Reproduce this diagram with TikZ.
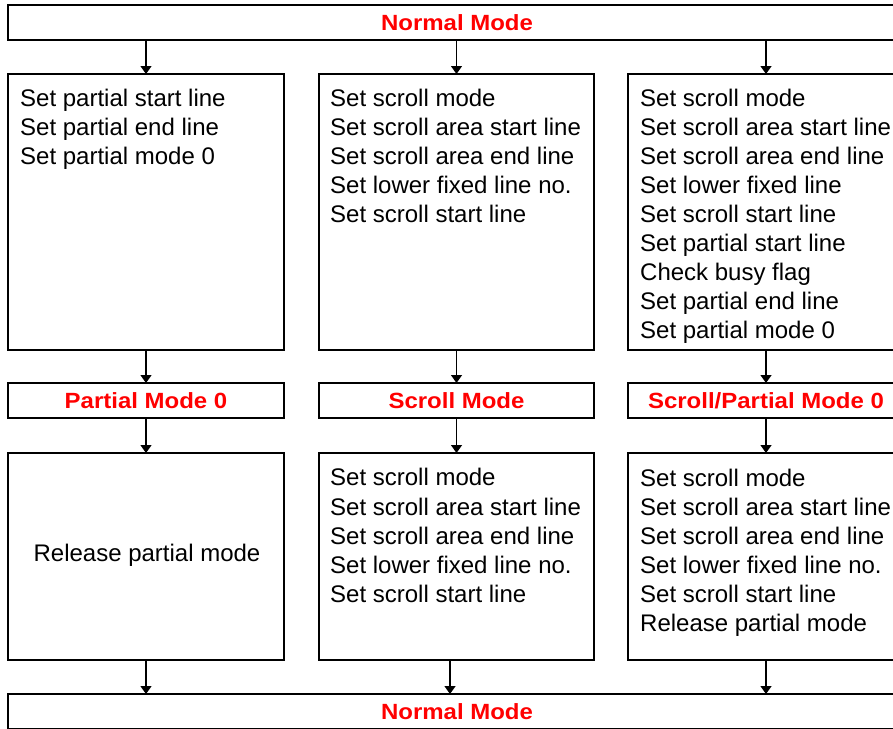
\documentclass[tikz,border=0pt]{standalone}
\usepackage{fontspec}
\setmainfont{Liberation Sans}
\newfontfamily\labfont{Liberation Sans}[FakeStretch=1.09]
\usetikzlibrary{arrows.meta,calc}
\definecolor{lblred}{RGB}{255,0,0}
\begin{document}
\begin{tikzpicture}[x=1pt,y=-1pt,
  box/.style={draw=black,line width=1.3pt,rectangle,inner sep=0,outer sep=0,minimum width=276,minimum height=276},
  modebox/.style={draw=black,line width=1.3pt,rectangle,inner sep=0,outer sep=0,minimum width=276,minimum height=35,
     font=\labfont\bfseries\fontsize{22}{26}\selectfont,text=lblred},
  lowbox/.style={box,minimum height=207},
  widebox/.style={modebox,minimum width=898},
  txt/.style={anchor=north west,inner sep=0,align=left,font=\fontsize{24}{29}\selectfont},
  arr/.style={line width=1.3pt,-{Triangle[width=11pt,length=8pt]}}]
\useasboundingbox (0,0) rectangle (893,728);
\clip (0,0) rectangle (893,728);
% top
\node[widebox] (top) at (457,22.5) {Normal Mode};
% row 1
\node[box] (a1) at (146,212) {};
\node[box,minimum width=275] (a2) at (456.5,212) {};
\node[box] (a3) at (766,212) {};
\node[txt] (t1) at ($(a1.north west)+(12,15.4)$) {Set partial start line\\Set partial end line\\Set partial mode 0};
\node[txt] (t2) at ($(a2.north west)+(11,15.4)$) {Set scroll mode\\Set scroll area start line\\Set scroll area end line\\Set lower fixed line no.\\Set scroll start line};
\node[txt] (t3) at ($(a3.north west)+(12,15.4)$) {Set scroll mode\\Set scroll area start line\\Set scroll area end line\\Set lower fixed line\\Set scroll start line\\Set partial start line\\Check busy flag\\Set partial end line\\Set partial mode 0};
% row 2
\node[modebox] (m1) at (146,400.5) {Partial Mode 0};
\node[modebox,minimum width=275] (m2) at (456.5,400.5) {Scroll Mode};
\node[modebox] (m3) at (766,400.5) {Scroll/Partial Mode 0};
% row 3
\node[lowbox] (b1) at (146,556.5) {};
\node[lowbox,minimum width=275] (b2) at (456.5,556.5) {};
\node[lowbox] (b3) at (766,556.5) {};
\node[txt,anchor=center] (u1) at ($(b1.center)+(1,-1)$) {Release partial mode};
\node[txt] (u2) at ($(b2.north west)+(11,15.4)$) {Set scroll mode\\Set scroll area start line\\Set scroll area end line\\Set lower fixed line no.\\Set scroll start line};
\node[txt] (u3) at ($(b3.north west)+(12,15.4)$) {Set scroll mode\\Set scroll area start line\\Set scroll area end line\\Set lower fixed line no.\\Set scroll start line\\Release partial mode};
% bottom
\node[widebox] (bot) at (457,711.5) {Normal Mode};
% arrows
\foreach \n in {1,2,3}{
  \draw[arr] (top.south -| a\n.north) -- (a\n.north);
  \draw[arr] (a\n.south) -- (m\n.north);
  \draw[arr] (m\n.south) -- (b\n.north);
}
\draw[arr] (b1.south) -- (b1.south |- bot.north);
\draw[arr] ([xshift=-6.5pt]b2.south) -- ([xshift=-6.5pt]b2.south |- bot.north);
\draw[arr] (b3.south) -- (b3.south |- bot.north);
\end{tikzpicture}
\end{document}
